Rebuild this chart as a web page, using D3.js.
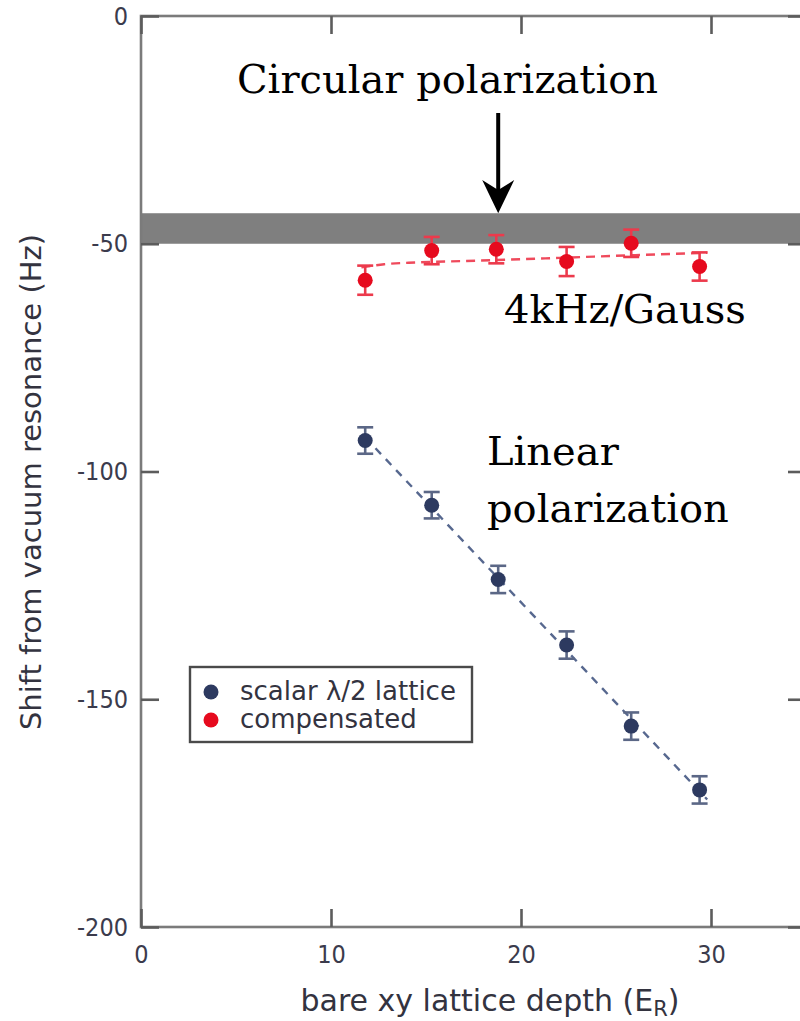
<!DOCTYPE html>
<html>
<head>
<meta charset="utf-8">
<script src="https://cdn.jsdelivr.net/npm/d3@7/dist/d3.min.js"></script>
<style>
  html, body { margin: 0; padding: 0; background: #fff; overflow: hidden; }
  svg { display: block; }
  .tick-label { font-family: "DejaVu Sans Condensed", "DejaVu Sans", sans-serif; font-stretch: condensed; font-size: 25px; fill: #3b3b4c; }
  .axis-title { font-family: "DejaVu Sans", sans-serif; font-size: 29px; fill: #33333f; }
  .legend-text { font-family: "DejaVu Sans", sans-serif; font-size: 26px; fill: #33333f; }
  .note { font-family: "DejaVu Serif", serif; font-size: 40px; fill: #000; }
</style>
</head>
<body>
<svg id="chart" width="800" height="1021"></svg>
<script>
// Lattice depth (E_R) and measured shifts (Hz)
const depthCompensated = [11.8, 15.3, 18.7, 22.4, 25.8, 29.4];
const shiftCompensated = [-58.0, -51.5, -51.2, -53.9, -49.9, -55.0];
const errCompensated   = [3.2, 3.0, 3.1, 3.2, 3.0, 3.1];

const depthScalar = [11.8, 15.3, 18.8, 22.4, 25.8, 29.4];
const shiftScalar = [-93.2, -107.4, -123.7, -138.1, -155.9, -169.9];
const errScalar   = [2.9, 2.9, 3.0, 3.0, 3.0, 3.0];

// Fitted trend curves
const fitCompensatedX = [11.6, 12.8, 14.5, 17.0, 22.0, 26.0, 29.8];
const fitCompensatedY = [-55.2, -54.5, -54.1, -53.8, -53.1, -52.5, -52.0];
const fitScalarX = [11.8, 29.8];
const fitScalarY = [-92.5, -172.0];

// Circular-polarization band (Hz)
const bandRange = [-50, -43.3];

const xTicks = [0, 10, 20, 30];
const yTicks = [0, -50, -100, -150, -200];
const xDomain = [0, 35];
const yDomain = [-200, 0];

const legendLabels = ["scalar \u03bb/2 lattice", "compensated"];

const svg = d3.select("#chart");
const plot = { left: 141, right: 806, top: 16, bottom: 927 };

const x = d3.scaleLinear().domain(xDomain).range([plot.left, plot.right]);
const y = d3.scaleLinear().domain(yDomain).range([plot.bottom, plot.top]);

const colors = {
  red: "#e60a1e", redLine: "#ef4a5c", redErr: "#ec3a4c",
  blue: "#2d3a60", blueLine: "#57688f", blueErr: "#5b6786",
  axis: "#7b7b7b", tick: "#5c5c5c", band: "#7f7f7f"
};

// plain hyphen for negative tick values
const fmt = d => String(d);

// Band for circular polarization
svg.append("rect")
  .attr("x", x(0)).attr("y", y(bandRange[1]))
  .attr("width", x(xDomain[1]) - x(0))
  .attr("height", y(bandRange[0]) - y(bandRange[1]))
  .attr("fill", colors.band);

// Frame
svg.append("rect")
  .attr("x", plot.left).attr("y", plot.top)
  .attr("width", plot.right - plot.left).attr("height", plot.bottom - plot.top)
  .attr("fill", "none").attr("stroke", colors.axis).attr("stroke-width", 2.6);

// Axes with inward ticks on all four sides
const tickLen = 18;
const axisStyle = g => {
  g.select(".domain").remove();
  g.selectAll(".tick line").attr("stroke", colors.tick).attr("stroke-width", 2.6);
};
svg.append("g").attr("transform", `translate(0,${plot.bottom})`)
  .call(d3.axisBottom(x).tickValues(xTicks).tickSize(-tickLen).tickFormat(fmt).tickPadding(12))
  .call(axisStyle)
  .call(g => g.selectAll(".tick text").attr("class", "tick-label").attr("dy", "0.95em").attr("font-size", null).attr("font-family", null).attr("fill", null));
svg.append("g").attr("transform", `translate(0,${plot.top})`)
  .call(d3.axisTop(x).tickValues(xTicks).tickSize(-tickLen).tickFormat(""))
  .call(axisStyle);
svg.append("g").attr("transform", `translate(${plot.left},0)`)
  .call(d3.axisLeft(y).tickValues(yTicks).tickSize(-tickLen).tickFormat(fmt).tickPadding(13))
  .call(axisStyle)
  .call(g => g.selectAll(".tick text").attr("class", "tick-label").attr("font-size", null).attr("font-family", null).attr("fill", null));
svg.append("g").attr("transform", `translate(${plot.right},0)`)
  .call(d3.axisRight(y).tickValues(yTicks).tickSize(-tickLen).tickFormat(""))
  .call(axisStyle);

// Axis titles
const xt = svg.append("text").attr("class", "axis-title")
  .attr("x", 490).attr("y", 1011).attr("text-anchor", "middle").style("font-size", "30px");
xt.append("tspan").text("bare xy lattice depth (E");
xt.append("tspan").text("R").style("font-size", "21px").attr("dy", "5");
xt.append("tspan").text(")").attr("dy", "-5");

svg.append("text").attr("class", "axis-title")
  .attr("transform", `translate(41,${482}) rotate(-90)`)
  .attr("text-anchor", "middle")
  .text("Shift from vacuum resonance (Hz)");

// Fit lines
const line = d3.line().x(d => x(d[0])).y(d => y(d[1])).curve(d3.curveMonotoneX);
svg.append("path")
  .attr("d", line(fitCompensatedX.map((v, i) => [v, fitCompensatedY[i]])))
  .attr("fill", "none").attr("stroke", colors.redLine).attr("stroke-width", 2.4)
  .attr("stroke-dasharray", "9,6");
svg.append("path")
  .attr("d", line(fitScalarX.map((v, i) => [v, fitScalarY[i]])))
  .attr("fill", "none").attr("stroke", colors.blueLine).attr("stroke-width", 2.4)
  .attr("stroke-dasharray", "8,7");

// Error bars + markers
function drawSeries(xs, ys, es, errColor, fill) {
  const data = xs.map((v, i) => ({ x: v, y: ys[i], e: es[i] }));
  const g = svg.append("g");
  const capW = 8;
  const eb = g.selectAll("g.eb").data(data).join("g");
  eb.append("line")
    .attr("x1", d => x(d.x)).attr("x2", d => x(d.x))
    .attr("y1", d => y(d.y + d.e)).attr("y2", d => y(d.y - d.e))
    .attr("stroke", errColor).attr("stroke-width", 2.6);
  eb.append("line")
    .attr("x1", d => x(d.x) - capW).attr("x2", d => x(d.x) + capW)
    .attr("y1", d => y(d.y + d.e)).attr("y2", d => y(d.y + d.e))
    .attr("stroke", errColor).attr("stroke-width", 2.6);
  eb.append("line")
    .attr("x1", d => x(d.x) - capW).attr("x2", d => x(d.x) + capW)
    .attr("y1", d => y(d.y - d.e)).attr("y2", d => y(d.y - d.e))
    .attr("stroke", errColor).attr("stroke-width", 2.6);
  g.selectAll("circle").data(data).join("circle")
    .attr("cx", d => x(d.x)).attr("cy", d => y(d.y)).attr("r", 7.5)
    .attr("fill", fill);
}
drawSeries(depthCompensated, shiftCompensated, errCompensated, colors.redErr, colors.red);
drawSeries(depthScalar, shiftScalar, errScalar, colors.blueErr, colors.blue);

// Legend
const lg = svg.append("g");
lg.append("rect").attr("x", 190).attr("y", 667).attr("width", 282).attr("height", 75)
  .attr("fill", "#fff").attr("stroke", "#4a4a4a").attr("stroke-width", 2.4);
[colors.blue, colors.red].forEach((c, i) => {
  lg.append("circle").attr("cx", 211).attr("cy", 692 + i * 28).attr("r", 7.5).attr("fill", c);
  lg.append("text").attr("class", "legend-text").attr("x", 240).attr("y", 700 + i * 28)
    .text(legendLabels[i]);
});

// Annotations
svg.append("text").attr("class", "note").attr("x", 237).attr("y", 93).text("Circular polarization");
const ax = x(18.8);
svg.append("line").attr("x1", ax).attr("x2", ax).attr("y1", 113).attr("y2", 190)
  .attr("stroke", "#000").attr("stroke-width", 4);
svg.append("path")
  .attr("d", `M${ax},${y(bandRange[1])} L${ax - 16},${180} L${ax},${190} L${ax + 16},${180} Z`)
  .attr("fill", "#000");
svg.append("text").attr("class", "note").attr("x", 504).attr("y", 323).text("4kHz/Gauss");
svg.append("text").attr("class", "note").attr("x", 487).attr("y", 465).text("Linear");
svg.append("text").attr("class", "note").attr("x", 487).attr("y", 522).text("polarization");
</script>
</body>
</html>
